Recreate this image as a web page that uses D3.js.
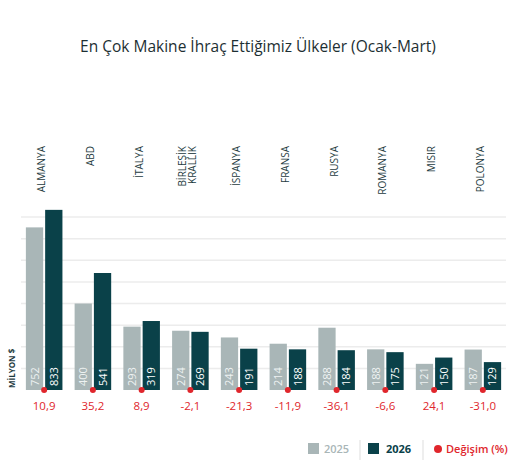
<!DOCTYPE html>
<html><head><meta charset="utf-8">
<script src="https://cdn.jsdelivr.net/npm/d3@7.9.0/dist/d3.min.js"></script>
<style>body{margin:0;background:#fff;font-family:"Open Sans",sans-serif}</style>
</head><body><svg id="chart" width="515" height="473"></svg>
<script>
const countries = [["ALMANYA"],["ABD"],["İTALYA"],["BİRLEŞİK","KRALLIK"],["İSPANYA"],["FRANSA"],["RUSYA"],["ROMANYA"],["MISIR"],["POLONYA"]];
const v2025 = [752,400,293,274,243,214,288,188,121,187];
const v2026 = [833,541,319,269,191,188,184,175,150,129];
const change = ["10,9","35,2","8,9","-2,1","-21,3","-11,9","-36,1","-6,6","24,1","-31,0"];
const grid = [100,200,300,400,500,600,700,800];

const c25 = "#a9b6b7", c26 = "#0a4149", red = "#e0262c";
const svg = d3.select("#chart");
const x = d3.scaleBand().domain(d3.range(10)).range([21, 506]).paddingInner(0.25).paddingOuter(0.1);
const y = d3.scaleLinear().domain([0, 800]).range([390, 217]);

svg.append("text").attr("x", 258).attr("y", 52).attr("text-anchor", "middle")
  .attr("font-size", 15.5).attr("font-weight", 500).attr("fill", "#1d2f33")
  .text("En Çok Makine İhraç Ettiğimiz Ülkeler (Ocak-Mart)");

svg.append("g").selectAll("line").data(grid).join("line")
  .attr("x1", 21).attr("x2", 506).attr("y1", d => y(d)).attr("y2", d => y(d))
  .attr("stroke", "#ececec").attr("stroke-width", 1.5);

const g = svg.append("g").selectAll("g").data(d3.range(10)).join("g")
  .attr("transform", i => `translate(${x(i)},0)`);
const bw = (x.bandwidth() - 2) / 2;

g.append("rect").attr("x", 0).attr("width", bw)
  .attr("y", i => y(v2025[i])).attr("height", i => 390 - y(v2025[i])).attr("fill", c25);
g.append("rect").attr("x", bw + 2).attr("width", bw)
  .attr("y", i => y(v2026[i])).attr("height", i => 390 - y(v2026[i])).attr("fill", c26);

g.append("text").attr("transform", `translate(${bw/2 + 4},386) rotate(-90)`)
  .attr("font-size", 11).attr("fill", "#eef2f2").text(i => v2025[i]);
g.append("text").attr("transform", `translate(${bw*1.5 + 6},386) rotate(-90)`)
  .attr("font-size", 11).attr("fill", "#ffffff").text(i => v2026[i]);

g.append("circle").attr("cx", bw + 1).attr("cy", 390).attr("r", 3).attr("fill", red);
g.append("text").attr("x", bw + 1).attr("y", 410).attr("text-anchor", "middle")
  .attr("font-size", 11.5).attr("fill", red).text(i => change[i]);

g.each(function(i) {
  const lines = countries[i];
  const t = d3.select(this).append("text").attr("font-size", 10).attr("fill", "#1d3a40")
    .attr("text-anchor", "end");
  lines.forEach((l, k) => {
    t.append("tspan").attr("x", 0).attr("dy", k ? 10 : 0).text(l);
  });
  const off = bw + 4 - (lines.length - 1) * 5;
  t.attr("transform", `translate(${off - 2},146) rotate(-90)`);
});

svg.append("text").attr("transform", "translate(15,388) rotate(-90)")
  .attr("font-size", 8).attr("font-weight", 700).attr("fill", "#1d3a40").text("MİLYON $");

const lg = svg.append("g").attr("font-size", 11).attr("font-weight", 600);
lg.append("rect").attr("x", 308).attr("y", 443).attr("width", 11).attr("height", 11).attr("fill", c25);
lg.append("text").attr("x", 324).attr("y", 453).attr("fill", c25).text("2025");
lg.append("line").attr("x1", 360).attr("x2", 360).attr("y1", 440).attr("y2", 460).attr("stroke", "#ddd");
lg.append("rect").attr("x", 368).attr("y", 443).attr("width", 11).attr("height", 11).attr("fill", c26);
lg.append("text").attr("x", 386).attr("y", 453).attr("fill", c26).attr("font-weight", 700).text("2026");
lg.append("line").attr("x1", 423).attr("x2", 423).attr("y1", 440).attr("y2", 460).attr("stroke", "#ddd");
lg.append("circle").attr("cx", 438).attr("cy", 449).attr("r", 4).attr("fill", red);
lg.append("text").attr("x", 446).attr("y", 453).attr("fill", red).text("Değişim (%)");
</script></body></html>
